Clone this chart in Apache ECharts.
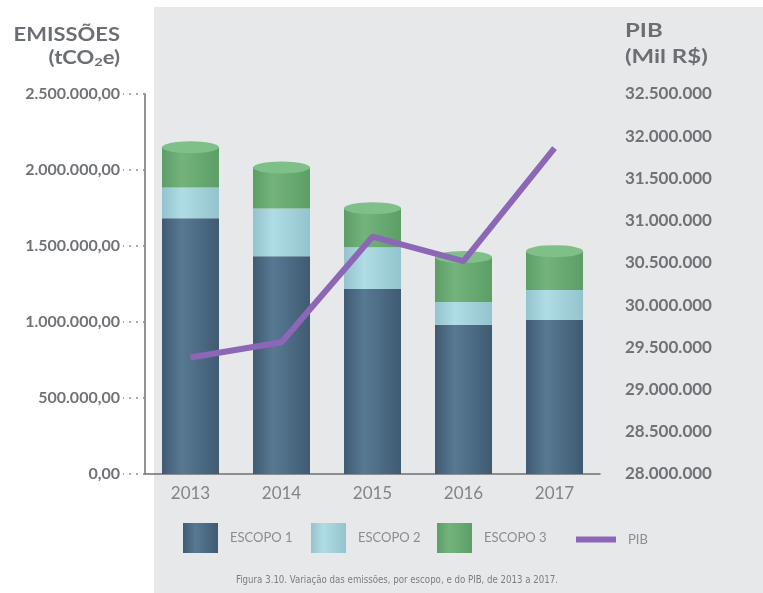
<!DOCTYPE html>
<html>
<head>
<meta charset="utf-8">
<script src="https://cdn.jsdelivr.net/npm/echarts@6/dist/echarts.min.js"></script>
<style>
  html, body { margin: 0; padding: 0; background: #fff; }
  #chart { width: 763px; height: 593px; }
</style>
</head>
<body>
<div id="chart"></div>
<script>
const years = ['2013', '2014', '2015', '2016', '2017']
const escopo1 = [1682000, 1433000, 1217000, 982000, 1014000]
const escopo2 = [203000, 314000, 275000, 150000, 197000]
const escopo3 = [265000, 269000, 256000, 295000, 255000]
const pib = [29380000, 29560000, 30810000, 30520000, 31860000]

// milhar com ponto, decimal com virgula
const fmtBR = (v, dec) => {
  let s = Math.round(v).toString().replace(/\B(?=(\d{3})+(?!\d))/g, '.')
  if (dec) s += ',' + '0'.repeat(dec)
  return s
}

const totals = escopo1.map((v, i) => v + escopo2[i] + escopo3[i])

const cyl = (edge, mid) => ({
  type: 'linear', x: 0, y: 0, x2: 1, y2: 0,
  colorStops: [
    { offset: 0, color: edge },
    { offset: 0.35, color: mid },
    { offset: 1, color: edge }
  ]
})

const labelColor = '#6f7277'
const titleFont = 'bold 18px Lato, sans-serif'
const legendText = { color: '#8a8c8f', fontSize: 13, padding: [0, 0, 0, 7] }
const chart = echarts.init(document.getElementById('chart'))

var option = {
  backgroundColor: '#ffffff',
  animation: false,
  textStyle: { fontFamily: 'Lato, sans-serif' },
  graphic: [
    { type: 'rect', z: -10, shape: { x: 154, y: 7, width: 609, height: 586 }, style: { fill: '#e7e8ea' } },
    { type: 'text', x: 120, y: 35, scaleX: 1.22, style: { text: 'EMISSÕES', fill: '#6b6e73', font: titleFont, textAlign: 'right', textVerticalAlign: 'middle' } },
    {
      type: 'text', x: 120, y: 58, scaleX: 1.22,
      style: {
        text: '{a|(tCO}{s|2}{a|e)}', textAlign: 'right', textVerticalAlign: 'middle',
        rich: {
          a: { fill: '#6b6e73', font: titleFont },
          s: { fill: '#6b6e73', font: 'bold 12px Lato, sans-serif', padding: [8, 0, 0, 0] }
        }
      }
    },
    { type: 'text', x: 625, y: 31, scaleX: 1.33, style: { text: 'PIB', fill: '#6b6e73', font: titleFont, textVerticalAlign: 'middle' } },
    { type: 'text', x: 625, y: 57, scaleX: 1.33, style: { text: '(Mil R$)', fill: '#6b6e73', font: titleFont, textVerticalAlign: 'middle' } },
    { type: 'text', x: 397, y: 580, style: { text: 'Figura 3.10. Variação das emissões, por escopo, e do PIB, de 2013 a 2017.', fill: '#7b7d80', font: '9.6px "Liberation Sans Narrow", "DejaVu Sans Condensed", sans-serif', textAlign: 'center', textVerticalAlign: 'middle' } }
  ],
  legend: [
    { data: ['ESCOPO 1'], left: 178, top: 518, itemWidth: 35, itemHeight: 30, icon: 'rect', textStyle: legendText },
    { data: ['ESCOPO 2'], left: 306, top: 518, itemWidth: 35, itemHeight: 30, icon: 'rect', textStyle: legendText },
    { data: ['ESCOPO 3'], left: 432, top: 518, itemWidth: 35, itemHeight: 30, icon: 'rect', textStyle: legendText },
    { data: ['PIB'], left: 571, top: 528, itemWidth: 40, itemHeight: 6, icon: 'rect', textStyle: legendText }
  ],
  grid: { left: 145, right: 163, top: 94, bottom: 119 },
  xAxis: {
    type: 'category',
    data: years,
    axisLine: { lineStyle: { color: '#6d6f72', width: 1.5 } },
    axisTick: { show: false },
    axisLabel: { color: '#828487', fontSize: 17, margin: 11 }
  },
  yAxis: [{
    type: 'value',
    min: 0,
    max: 2500000,
    interval: 500000,
    axisLine: { show: true, lineStyle: { color: '#6d6f72', width: 1.5 } },
    axisTick: { show: true, length: 22, lineStyle: { color: '#8a8c8f', type: [2, 5], width: 1.5 } },
    splitLine: { show: false },
    axisLabel: { color: labelColor, fontSize: 16, fontWeight: 'bold', margin: 25, formatter: v => fmtBR(v, 2) }
  }, {
    type: 'value',
    min: 28000000,
    max: 32500000,
    interval: 500000,
    axisLine: { show: false },
    axisTick: { show: false },
    splitLine: { show: false },
    axisLabel: { color: labelColor, fontSize: 17, fontWeight: 'bold', margin: 25, formatter: v => fmtBR(v) }
  }],
  series: [{
    name: 'ESCOPO 1',
    type: 'bar',
    stack: 'em',
    barWidth: 57,
    data: escopo1,
    itemStyle: { color: cyl('#3f5b72', '#587993') }
  }, {
    name: 'ESCOPO 2',
    type: 'bar',
    stack: 'em',
    barWidth: 57,
    data: escopo2,
    itemStyle: { color: cyl('#93c3cd', '#b0dde5') }
  }, {
    name: 'ESCOPO 3',
    type: 'bar',
    stack: 'em',
    barWidth: 57,
    data: escopo3,
    itemStyle: { color: cyl('#5c9e66', '#74b47c') }
  }, {
    name: 'topo',
    type: 'pictorialBar',
    symbol: 'circle',
    symbolSize: [57, 12],
    symbolPosition: 'end',
    symbolOffset: [0, '-50%'],
    barWidth: 57,
    data: totals,
    itemStyle: { color: '#7fbf88' },
    z: 3,
    legendHoverLink: false
  }, {
    name: 'PIB',
    type: 'line',
    yAxisIndex: 1,
    data: pib,
    symbol: 'none',
    z: 5,
    lineStyle: { color: '#8c67b6', width: 6 },
    itemStyle: { color: '#8c67b6' }
  }]
}

chart.setOption(option)
</script>
</body>
</html>
